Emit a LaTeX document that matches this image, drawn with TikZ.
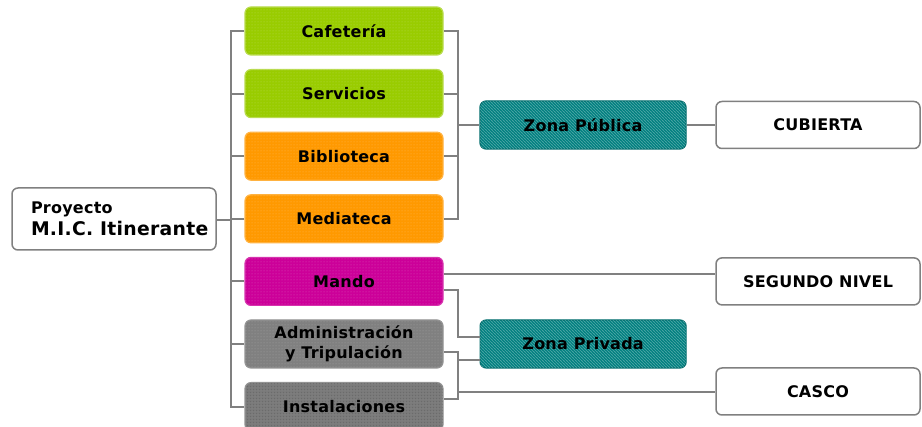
\documentclass[tikz,border=0pt]{standalone}
\usepackage{fontspec}
\setmainfont{DejaVu Sans}[LetterSpace=1.5]
\usetikzlibrary{patterns}
\definecolor{verde}{HTML}{99CC00}
\definecolor{naranja}{HTML}{FF9900}
\definecolor{fucsia}{HTML}{CC0099}
\definecolor{gris}{HTML}{808080}
\definecolor{verdeazul}{HTML}{008080}
\tikzstyle{area} = [rectangle, rounded corners=6pt, minimum width=198pt, minimum height=48pt, text centered, line width=1.2pt, font=\bfseries\fontsize{16}{20}\selectfont, postaction={pattern=dots, pattern color=white, opacity=0.3}]
\tikzstyle{zona} = [area, minimum width=206pt, draw=verdeazul!85!black, fill=verdeazul, postaction={pattern=north west lines, pattern color=white, opacity=0.3}]
\tikzstyle{nivel} = [rectangle, rounded corners=6pt, minimum width=204pt, minimum height=47pt, text centered, draw=gris, line width=1.5pt, fill=white, font=\bfseries\fontsize{16}{20}\selectfont]
\tikzstyle{edge} = [draw=gris, line width=2pt]

\begin{document}
\begin{tikzpicture}[x=1pt, y=-1pt, node distance=62.6pt]
\useasboundingbox (0,0) rectangle (922,427);

\node (0) [nivel, minimum height=62pt, inner xsep=19pt, align=left, font=\bfseries\fontsize{18.8}{22}\selectfont] at (114,219) {{\fontsize{16}{18}\selectfont Proyecto}\\\makebox[166pt][l]{M.I.C. Itinerante}};

\node (1) [area, draw=verde!70!white, fill=verde] at (344,31) {Cafetería};
\node (2) [area, draw=verde!70!white, fill=verde, below of=1] {Servicios};
\node (3) [area, draw=naranja!75!white, fill=naranja, below of=2] {Biblioteca};
\node (4) [area, draw=naranja!75!white, fill=naranja, below of=3] {Mediateca};
\node (5) [area, draw=fucsia!80!white, fill=fucsia, below of=4] {Mando};
\node (6) [area, draw=gris!85!white, fill=gris, align=center, below of=5] {Administración\\y Tripulación};
\node (7) [area, draw=gris!85!white, fill=gris!95!black, postaction={pattern=crosshatch dots, pattern color=black, opacity=0.15}, below of=6] {Instalaciones};

\node (8) [zona] at (583,125) {Zona Pública};
\node (9) [zona, right of=6, xshift=176.5pt] {Zona Privada};

\node (10) [nivel] at (818,125) {CUBIERTA};
\node (11) [nivel, right of=5, xshift=411.4pt] {SEGUNDO NIVEL};
\node (12) [nivel] at (818,391.5) {CASCO};

\coordinate (lbus) at (231,220);
\coordinate (pbus) at (458,125);
\coordinate (zbus) at (458,337);
\coordinate (abus) at (458,360);
\coordinate (cbus) at (458,392);

\draw [edge] (0.east |- lbus) -- (lbus);
\draw [edge] (1) -| (lbus);
\draw [edge] (2) -| (lbus);
\draw [edge] (3) -| (lbus);
\draw [edge] (4) -| (lbus);
\draw [edge] (5) -| (lbus);
\draw [edge] (6) -| (lbus);
\draw [edge] (7) -| (lbus);

\draw [edge] (1) -| (pbus);
\draw [edge] (2) -| (pbus);
\draw [edge] (3) -| (pbus);
\draw [edge] (4) -| (pbus);
\draw [edge] (pbus) -- (8);
\draw [edge] (8) -- (10);

\draw [edge] ([yshift=7.5pt]5.east) -- ([yshift=7.5pt]5.east -| 11.west);
\draw [edge] ([yshift=-8.5pt]5.east) -| (zbus) -- (zbus -| 9.west);
\draw [edge] ([yshift=-8.5pt]6.east) -| (cbus);
\draw [edge] ([yshift=7.5pt]7.east) -| (cbus);
\draw [edge] (abus) -- (abus -| 9.west);
\draw [edge] (cbus) -- (cbus -| 12.west);

\end{tikzpicture}
\end{document}
